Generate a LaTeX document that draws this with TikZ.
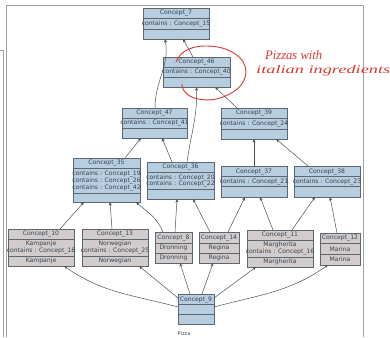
\documentclass[tikz,border=0pt]{standalone}
\usepackage{fontspec}
\usepackage{graphicx}
\setmainfont{DejaVu Sans}
\newfontfamily\handfont{Liberation Serif}
\usetikzlibrary{arrows.meta}
\definecolor{cblue}{HTML}{B7CDE0}
\definecolor{cgray}{HTML}{D2CCCC}
\definecolor{cborder}{HTML}{5E6670}
\definecolor{ctextc}{HTML}{3A4450}
\definecolor{edgec}{HTML}{4A5056}
\definecolor{penred}{HTML}{D8392E}
\definecolor{framec}{HTML}{A0A0A0}
\tikzset{
  cboxst/.style={draw=cborder,line width=0.6pt,inner sep=0pt,outer sep=0pt},
  bluebox/.style={cboxst,fill=cblue},
  graybox/.style={cboxst,fill=cgray},
  sepline/.style={draw=cborder,line width=0.5pt},
  ctext/.style={inner sep=0pt,outer sep=0pt,text=ctextc,align=center,
    font=\fontsize{6.1}{6.7}\selectfont},
  edge/.style={draw=edgec,line width=0.5pt,-{Stealth[length=3.6pt,width=3pt]}},
  pen/.style={draw=penred,line width=0.9pt,line cap=round,line join=round},
  penlabel/.style={inner sep=0pt,text=penred,anchor=base west}
}
\newcommand\cbox[6]{\node[#6,minimum width=#4pt,minimum height=#5pt,anchor=north west] (#1) at (#2,-#3) {};}
\newcommand\csep[2]{\draw[sepline] (#1.west |- 0,-#2) -- (#1.east |- 0,-#2);}
\newcommand\ctxt[4]{\node[ctext] (#2) at (#1.center |- 0,-#3) {#4};}
\begin{document}
\begin{tikzpicture}[x=1pt,y=1pt]
\useasboundingbox (0,0) rectangle (390,-337);
% frame
\draw[framec,line width=0.6pt] (6,-337) -- (6,-5) -- (363,-5) -- (363,-337);
\draw[framec,line width=0.6pt] (0,-50) -- (3,-50) -- (3,-337);

% boxes
\cbox{c7}{143}{8}{66}{31}{bluebox}
\csep{c7}{18}\csep{c7}{29}
\ctxt{c7}{c7a}{13}{Concept\_7}
\ctxt{c7}{c7b}{23.5}{contains : Concept\_15}

\cbox{c46}{163}{57}{67}{30}{bluebox}
\csep{c46}{67}\csep{c46}{77}
\ctxt{c46}{c46a}{62}{Concept\_46}
\ctxt{c46}{c46b}{72}{contains : Concept\_40}

\cbox{c47}{122}{108}{65}{30}{bluebox}
\csep{c47}{118}\csep{c47}{128}
\ctxt{c47}{c47a}{113}{Concept\_47}
\ctxt{c47}{c47b}{123}{contains : Concept\_41}

\cbox{c39}{221}{108}{66}{31}{bluebox}
\csep{c39}{118}\csep{c39}{129}
\ctxt{c39}{c39a}{113}{Concept\_39}
\ctxt{c39}{c39b}{123.5}{contains : Concept\_24}

\cbox{c35}{73}{158}{67}{44}{bluebox}
\csep{c35}{168}\csep{c35}{193}
\ctxt{c35}{c35a}{163}{Concept\_35}
\ctxt{c35}{c35b}{180.7}{contains : Concept\_19\\contains : Concept\_26\\contains : Concept\_42}

\cbox{c36}{147}{162}{67}{37}{bluebox}
\csep{c36}{172}\csep{c36}{189}
\ctxt{c36}{c36a}{167}{Concept\_36}
\ctxt{c36}{c36b}{181}{contains : Concept\_20\\contains : Concept\_22}

\cbox{c37}{221}{166}{66}{31}{bluebox}
\csep{c37}{176.7}\csep{c37}{186.7}
\ctxt{c37}{c37a}{171.5}{Concept\_37}
\ctxt{c37}{c37b}{181.7}{contains : Concept\_21}

\cbox{c38}{294}{166}{66}{31}{bluebox}
\csep{c38}{176.7}\csep{c38}{186.7}
\ctxt{c38}{c38a}{171.5}{Concept\_38}
\ctxt{c38}{c38b}{181.7}{contains : Concept\_23}

\cbox{c10}{8}{229}{66}{37}{graybox}
\csep{c10}{239}\csep{c10}{256}
\ctxt{c10}{c10a}{234}{Concept\_10}
\ctxt{c10}{c10b}{247.5}{Kampanje\\contains : Concept\_18}
\ctxt{c10}{c10c}{261}{Kampanje}

\cbox{c13}{82}{229}{66}{37}{graybox}
\csep{c13}{239}\csep{c13}{256}
\ctxt{c13}{c13a}{234}{Concept\_13}
\ctxt{c13}{c13b}{247.5}{Norwegian\\contains : Concept\_25}
\ctxt{c13}{c13c}{261}{Norwegian}

\cbox{c8}{155}{232}{37}{31}{graybox}
\csep{c8}{243}\csep{c8}{253}
\ctxt{c8}{c8a}{237.7}{Concept\_8}
\ctxt{c8}{c8b}{248}{Dronning}
\ctxt{c8}{c8c}{258}{Dronning}

\cbox{c14}{199}{232}{40}{31}{graybox}
\csep{c14}{243}\csep{c14}{253}
\ctxt{c14}{c14a}{237.7}{Concept\_14}
\ctxt{c14}{c14b}{248}{Regina}
\ctxt{c14}{c14c}{258}{Regina}

\cbox{c11}{247}{230}{66}{37}{graybox}
\csep{c11}{240}\csep{c11}{257}
\ctxt{c11}{c11a}{235}{Concept\_11}
\ctxt{c11}{c11b}{248.5}{Margherita\\contains : Concept\_16}
\ctxt{c11}{c11c}{262}{Margherita}

\cbox{c12}{320}{233}{40}{32}{graybox}
\csep{c12}{243.5}\csep{c12}{254}
\ctxt{c12}{c12a}{238.3}{Concept\_12}
\ctxt{c12}{c12b}{248.8}{Marina}
\ctxt{c12}{c12c}{259.5}{Marina}

\cbox{c9}{178}{294}{36}{30}{bluebox}
\csep{c9}{304.7}\csep{c9}{314.3}
\ctxt{c9}{c9a}{299.5}{Concept\_9}
\node[ctext,font=\fontsize{5}{6}\selectfont] (pizza) at (184,-334) {Pizza};

% edges
\draw[edge] ([xshift=-3.5pt]c46.north) -- ([xshift=7pt]c7.south);
\draw[edge] ([xshift=0.5pt]c47.north) to[out=90,in=-80] ([xshift=-11pt]c7.south);
\draw[edge] ([xshift=-17pt]c39.north) -- ([xshift=18.5pt]c46.south);
\draw[edge] ([xshift=6.5pt]c36.north) to[out=82,in=-88] (c46.south);
\draw[edge] ([xshift=18.5pt]c35.north) -- ([xshift=-13.5pt]c47.south);
\draw[edge] ([xshift=-8.5pt]c36.north) -- ([xshift=7.5pt]c47.south);
\draw[edge] (c37.north) -- (c39.south);
\draw[edge] ([xshift=-19pt]c38.north) -- ([xshift=22pt]c39.south);
\draw[edge] ([xshift=19pt]c10.north) -- ([xshift=-22.5pt]c35.south);
\draw[edge] ([xshift=-3pt]c13.north) -- ([xshift=3.5pt]c35.south);
\draw[edge] ([xshift=-10.5pt]c8.north) to[out=112,in=-42] ([xshift=29.5pt]c35.south);
\draw[edge] ([xshift=1.5pt]c8.north) -- ([xshift=-3.5pt]c36.south);
\draw[edge] ([xshift=-9pt]c14.north) -- ([xshift=12.5pt]c36.south);
\draw[edge] ([xshift=9pt]c14.north) -- ([xshift=-9pt]c37.south);
\draw[edge] ([xshift=-7pt]c11.north) -- ([xshift=6pt]c37.south);
\draw[edge] ([xshift=12pt]c11.north) -- ([xshift=-12pt]c38.south);
\draw[edge] ([xshift=-3pt]c12.north) -- ([xshift=3pt]c38.south);
\draw[edge] ([yshift=2pt]c9.west) to[out=165,in=-35] ([xshift=23pt]c10.south);
\draw[edge] ([yshift=-4pt]c9.north west) -- ([xshift=24pt]c13.south);
\draw[edge] ([xshift=-6pt]c9.north) -- ([xshift=6.5pt]c8.south);
\draw[edge] ([xshift=6pt]c9.north) -- ([xshift=-6pt]c14.south);
\draw[edge] ([yshift=-4pt]c9.north east) -- ([xshift=-24pt]c11.south);
\draw[edge] ([yshift=2pt]c9.east) to[out=15,in=-145] ([xshift=-12pt]c12.south);

% red annotation
\draw[pen] plot[smooth,tension=0.7] coordinates {(176,-62) (185,-51) (205,-46) (230,-51) (245,-66) (241,-85) (220,-98) (198,-99) (185,-92) (182,-84)};
\node[penlabel] (note1) at (265,-59.5) {\resizebox{57pt}{9pt}{\handfont\itshape Pizzas with}};
\node[penlabel] (note2) at (256,-73.5) {\resizebox{134pt}{8pt}{\handfont\itshape italian ingredients}};
\end{tikzpicture}
\end{document}
